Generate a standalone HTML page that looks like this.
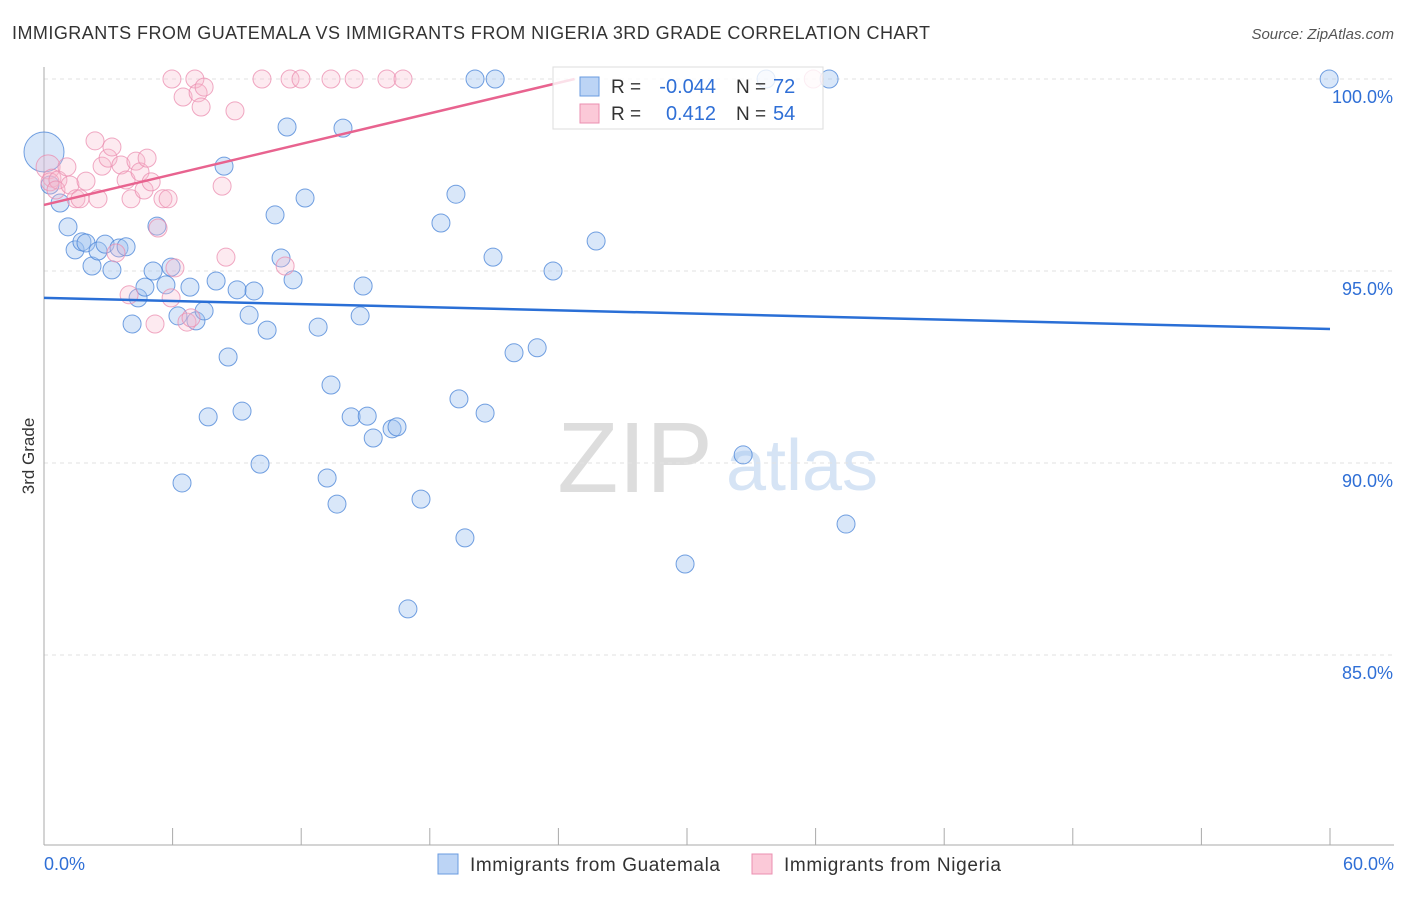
<!DOCTYPE html>
<html><head><meta charset="utf-8"><style>
body{margin:0;background:#fff;font-family:"Liberation Sans",sans-serif}
svg text{font-family:"Liberation Sans",sans-serif}
</style></head><body>
<svg id="c" width="1406" height="892">
<text x="12" y="39" font-size="18" fill="#333" textLength="918">IMMIGRANTS FROM GUATEMALA VS IMMIGRANTS FROM NIGERIA 3RD GRADE CORRELATION CHART</text>
<text x="1394" y="39" font-size="15" fill="#555" font-style="italic" text-anchor="end">Source: ZipAtlas.com</text>
<text x="34" y="456" font-size="17" fill="#333" text-anchor="middle" transform="rotate(-90 34 456)">3rd Grade</text>
<text x="635" y="492" font-size="100" fill="#ddd" font-family="Liberation Serif" text-anchor="middle">ZIP</text>
<text x="802" y="490" font-size="72" fill="#d6e4f5" text-anchor="middle">atlas</text>
<g id="grid"></g><g id="axes"></g><g id="pts"></g><g id="lines"></g>
<g>
<rect x="553" y="67" width="270" height="62" fill="#fff" fill-opacity="0.8" stroke="#ddd"/>
<rect x="580" y="77" width="19" height="19" fill="#bcd4f5" stroke="#6a9be0"/>
<rect x="580" y="104" width="19" height="19" fill="#fbc9d8" stroke="#eb8fb0"/>
<text x="611" y="93" font-size="19" fill="#333">R =</text>
<text x="716" y="93" font-size="20" fill="#2f6fd6" text-anchor="end">-0.044</text>
<text x="736" y="93" font-size="19" fill="#333">N =</text>
<text x="773" y="93" font-size="20" fill="#2f6fd6">72</text>
<text x="611" y="120" font-size="19" fill="#333">R =</text>
<text x="716" y="120" font-size="20" fill="#2f6fd6" text-anchor="end">0.412</text>
<text x="736" y="120" font-size="19" fill="#333">N =</text>
<text x="773" y="120" font-size="20" fill="#2f6fd6">54</text>
</g>
<g>
<rect x="438" y="854" width="20" height="20" fill="#bcd4f5" stroke="#6a9be0"/>
<text x="470" y="871" font-size="19" fill="#333" textLength="250">Immigrants from Guatemala</text>
<rect x="752" y="854" width="20" height="20" fill="#fbc9d8" stroke="#eb8fb0"/>
<text x="784" y="871" font-size="19" fill="#333" textLength="217">Immigrants from Nigeria</text>
</g>
</svg>
<script>
const blueX=[0,0.28,0.75,1.12,1.45,1.77,1.96,2.24,2.52,2.85,3.17,3.5,3.83,4.11,4.39,4.71,5.09,5.27,5.69,5.93,6.25,6.44,6.81,7.09,7.47,7.66,8.03,8.4,8.59,9.01,9.24,9.57,9.8,10.08,10.41,10.78,11.06,11.34,11.62,12.18,12.79,13.21,13.39,13.67,13.95,14.33,14.75,14.89,15.08,15.36,16.24,16.47,16.98,17.59,18.52,19.22,19.36,19.64,20.11,20.58,20.95,21.05,21.93,23.01,23.75,25.76,29.91,32.62,33.69,36.63,37.42,59.96];
const blueY=[98.1,97.24,96.77,96.15,95.55,95.76,95.73,95.13,95.52,95.7,95.03,95.6,95.63,93.62,94.3,94.58,95.0,96.17,94.64,95.1,93.83,89.48,94.58,93.7,93.96,91.2,94.74,97.73,92.76,94.51,91.35,93.85,94.48,89.97,93.46,96.46,95.34,98.75,94.77,96.9,93.54,89.61,92.03,88.93,98.72,91.2,93.83,94.61,91.22,90.65,90.89,90.94,86.2,89.06,96.25,97.0,91.67,88.05,100,91.3,95.36,100,92.87,93.0,95.0,95.78,87.37,90.21,100,100,88.41,100];
const pinkX=[0.19,0.37,0.28,0.65,0.56,1.07,1.21,1.49,1.68,1.96,2.38,2.52,2.71,2.99,3.17,3.36,3.59,3.83,3.97,4.06,4.29,4.48,4.67,4.81,5.0,5.18,5.32,5.55,5.79,5.97,5.93,6.11,6.49,6.67,6.86,7.04,7.19,7.33,7.47,8.31,8.49,8.91,10.17,11.25,11.48,11.99,13.39,14.47,16.0,16.75,35.89];
const pinkY=[97.71,97.42,97.32,97.37,97.11,97.71,97.24,96.88,96.88,97.34,98.39,96.88,97.73,97.94,98.23,95.47,97.76,97.37,94.38,96.88,97.86,97.58,97.11,97.94,97.32,93.62,96.12,96.88,96.88,100,94.3,95.08,99.53,93.67,93.78,100,99.64,99.27,99.79,97.21,95.36,99.17,100,95.13,100,100,100,100,100,100,100];
const trendBlue=[94.3,-0.0135];
const trendPink=[96.72,0.1325];
const yTicks=[100,95,90,85];
const xTickVals=[0,6,12,18,24,30,36,42,48,54,60];
const X=v=>44+v/60*1286, Y=v=>79+(100-v)*38.4;
const NS='http://www.w3.org/2000/svg';
function mk(t,a,p){const e=document.createElementNS(NS,t);for(const k in a)e.setAttribute(k,a[k]);p.appendChild(e);return e;}
const g=document.getElementById('grid'),ax=document.getElementById('axes'),pts=document.getElementById('pts'),ln=document.getElementById('lines');
yTicks.forEach(v=>{const l=mk('line',{x1:44,x2:1394,y1:Y(v),y2:Y(v),stroke:'#e2e2e2','stroke-dasharray':'4 4'},g);


const t=mk('text',{x:1393,y:Y(v)+24,'font-size':18,fill:'#2f6fd6','text-anchor':'end'},g);t.textContent=v.toFixed(1)+'%';

});
const a1=mk('line',{x1:44,x2:44,y1:67,y2:845,stroke:'#aaa'},ax);


const a2=mk('line',{x1:44,x2:1394,y1:845,y2:845,stroke:'#aaa'},ax);


xTickVals.forEach(v=>{const l=mk('line',{x1:X(v),x2:X(v),y1:828,y2:845,stroke:'#aaa'},ax);

});
[[0,'0.0%','start',44],[60,'60.0%','end',1394]].forEach(d=>{const t=mk('text',{x:d[3],y:870,'font-size':18,fill:'#2f6fd6','text-anchor':d[2]},ax);t.textContent=d[1];

});
blueX.forEach((v,i)=>{const c=mk('circle',{cx:X(v),cy:Y(blueY[i]),r:i==0?20:9,fill:'rgba(160,196,240,0.4)',stroke:'rgba(70,130,215,0.75)','stroke-width':1},pts);

});
pinkX.forEach((v,i)=>{const c=mk('circle',{cx:X(v),cy:Y(pinkY[i]),r:i==0?12:9,fill:'rgba(250,185,205,0.3)',stroke:'rgba(235,140,175,0.75)','stroke-width':1},pts);

});
const lb=mk('line',{x1:X(0),y1:Y(trendBlue[0]),x2:X(60),y2:Y(trendBlue[0]+trendBlue[1]*60),stroke:'#2a6fd6','stroke-width':2.5},ln);


const xe=(100-trendPink[0])/trendPink[1];
const lp=mk('line',{x1:X(0),y1:Y(trendPink[0]),x2:X(xe),y2:Y(100),stroke:'#e8638f','stroke-width':2.5},ln);


</script>
</body></html>
